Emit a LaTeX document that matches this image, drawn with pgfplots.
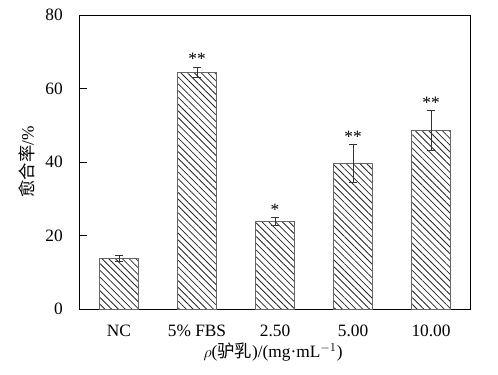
\documentclass[border=0pt]{standalone}
\usepackage{fontspec}
\setmainfont{Liberation Serif}
\newfontfamily\cjk{Noto Sans CJK SC}
\usepackage{pgfplots}
\pgfplotsset{compat=1.18}
\usetikzlibrary{patterns.meta}
\begin{document}
\fontsize{13pt}{15pt}\selectfont
\begin{tikzpicture}
\path[use as bounding box] (-60pt,-48.75pt) rectangle (313.5pt,231.75pt);
\begin{axis}[
  at={(0,0)}, anchor=south west,
  width=292.5pt, height=220.5pt, scale only axis,
  xmin=-0.5, xmax=4.5, ymin=0, ymax=80,
  ytick={0,20,40,60,80},
  xtick={0,1,2,3,4},
  xticklabels={NC,5\% FBS,2.50,5.00,10.00},
  tick align=inside, major tick length=5.25pt,
  xtick pos=bottom, ytick pos=left,
  axis line style={black, line width=0.75pt},
  tick style={black, line width=0.75pt},
  /pgf/number format/assume math mode=true,
  ticklabel style={font=\fontsize{13pt}{15pt}\selectfont},
  yticklabel style={anchor=east, inner sep=0pt, xshift=-12.75pt},
  xticklabel style={anchor=base, inner sep=0pt, yshift=-20.25pt},
  ylabel={{\cjk 愈合率}/\%},
  ylabel style={at={(axis description cs:-0.136,0.5)}, anchor=center, rotate=0, font=\fontsize{13pt}{15pt}\selectfont},
  xlabel={$\rho$({\cjk 驴乳})/(mg·mL$^{-1}$)},
  xlabel style={at={(axis description cs:0.495,-0.146)}, anchor=center, font=\fontsize{13pt}{15pt}\selectfont},
  clip=false,
]
\addplot[ybar, bar width=29.25pt, draw=black!60, line width=0.75pt, fill=white,
  postaction={pattern={Lines[angle=-45,distance=3.6pt,line width=0.6pt]}, pattern color=black!85},
  error bars/.cd, y dir=both, y explicit,
  error bar style={black!80, line width=0.75pt},
  error mark options={rotate=90, mark size=3pt, black!80, line width=0.75pt}]
coordinates {
 (0,13.8) +- (0,0.8)
 (1,64.4) +- (0,1.4)
 (2,23.8) +- (0,1.1)
 (3,39.6) +- (0,5.1)
 (4,48.5) +- (0,5.4)
};
\addplot[draw=none, mark=none, nodes near coords={\pgfplotspointmeta},
  point meta=explicit symbolic,
  nodes near coords style={anchor=south, inner sep=0pt, yshift=1.5pt, font=\fontsize{13pt}{15pt}\selectfont}]
table[meta=lab] {
x y lab
1 65.8 **
2 24.9 *
3 44.7 **
4 53.9 **
};
\end{axis}
\end{tikzpicture}
\end{document}
